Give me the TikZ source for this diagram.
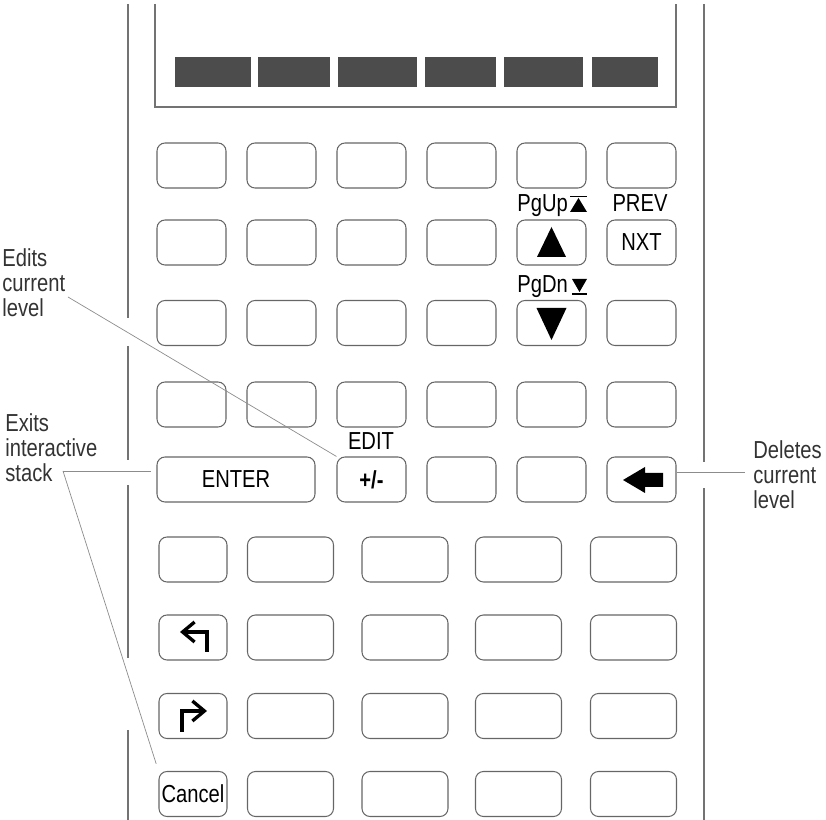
\documentclass[tikz,border=0pt]{standalone}
\usepackage{fontspec}
\setmainfont[FakeStretch=0.82]{Liberation Sans}
\usetikzlibrary{arrows.meta, calc}

\begin{document}
\begin{tikzpicture}[
    x=0.2mm, y=-0.2mm,
    font=\fontsize{14}{14.2}\selectfont,
    tombol/.style={draw=black!60, line width=0.6pt, rounded corners=1.6mm,
                   minimum width=13.8mm, minimum height=9mm, inner sep=0pt},
    lebar/.style={tombol, minimum width=17.2mm},
    ket/.style={anchor=north west, align=left, inner sep=0pt, text=black!80},
    tulisan/.style={inner sep=0pt, anchor=base},
    garis/.style={black!55, line width=0.6pt},
    penunjuk/.style={black!45, line width=0.4pt},
    panah/.style={line width=1.9pt, -{Straight Barb[length=2.4mm, width=4mm]}}
  ]
    \useasboundingbox (0,0) rectangle (826,820);
    \draw[garis] (128,4) -- (128,318) (128,346) -- (128,460) (128,485) -- (128,658) (128,730) -- (128,820);
    \draw[garis] (704,4) -- (704,462) (704,488) -- (704,820);
    \draw[garis] (155,4) -- (155,107) -- (676,107) -- (676,4);
    \foreach \a/\b in {175/251, 258/330, 338/417, 425/496, 504/583, 592/658}
      \fill[black!70] (\a,57) rectangle (\b,87);

    \foreach \y [count=\r] in {165.5, 242.5, 323, 404.5} {
      \foreach \x [count=\c] in {191.5, 281.5, 371.5, 461.5, 551.5, 641.5}
        \node[tombol] (t\r\c) at (\x,\y) {};
    }
    \node[tulisan, anchor=center] (nxt) at (t26) {NXT};
    \node[tombol, minimum width=31.6mm] (enter) at (236,479.5) {ENTER};
    \node[tombol, font=\fontsize{14}{14.2}\selectfont\bfseries] (pm) at (371.5,479.5) {+/-};
    \foreach \x [count=\c from 3] in {461.5, 551.5}
      \node[tombol] (t5\c) at (\x,479.5) {};
    \node[tombol] (hapus) at (641.5,479.5) {};

    \foreach \y [count=\r from 6] in {559.5, 637.5, 716, 794} {
      \foreach \x [count=\c from 2] in {290.5, 405, 518.5, 633.5}
        \node[lebar] (t\r\c) at (\x,\y) {};
    }
    \foreach \y [count=\r from 6] in {559.5, 637.5, 716}
      \node[tombol, minimum width=13.6mm] (t\r1) at (193,\y) {};
    \node[tombol, minimum width=13.6mm] (cancel) at (193,794) {Cancel};

    \fill (t25.center) ++(0,-15.5) -- ++(14.5,30) -- ++(-29,0) -- cycle;
    \fill (t35.center) ++(0,17) -- ++(15,-32) -- ++(-30,0) -- cycle;
    \fill[shift={(hapus.center)}] (-18.5,0.5) -- (3.5,-12.5) -- (3.5,-6.5) -- (21.5,-6.5)
      -- (21.5,7.5) -- (3.5,7.5) -- (3.5,13.5) -- cycle;
    \draw[panah, shift={(t71.center)}] (14,14.5) -- (14,-5.5) -- (-13,-5.5);
    \draw[panah, shift={(t81.center)}] (-11,16) -- (-11,-5) -- (14,-5);

    \node[tulisan, anchor=base west] (pgup) at (517,212) {PgUp};
    \node[tulisan] (prev) at (640,212) {PREV};
    \node[tulisan, anchor=base west] (pgdn) at (517,293) {PgDn};
    \node[tulisan] (edit) at (371,450) {EDIT};
    \fill (570,212) -- (578.5,198) -- (587,212) -- cycle;
    \draw[line width=0.8pt] (570,196.5) -- (587,196.5);
    \fill (572,279) -- (587,279) -- (579.5,292) -- cycle;
    \draw[line width=0.8pt] (572,294) -- (587,294);

    \node[ket] (edits) at (2,248) {Edits\\current\\level};
    \node[ket] (exits) at (5,413) {Exits\\interactive\\stack};
    \node[ket] (deletes) at (753,440) {Deletes\\current\\level};
    \coordinate (ujungEdit) at (68,297);
    \coordinate (ujungExit) at (63,471);
    \coordinate (ujungHapus) at (745,472);
    \draw[penunjuk] (ujungEdit) -- (pm.north west);
    \draw[penunjuk, shorten >=1mm] (ujungExit) -- (ujungExit -| enter.west);
    \draw[penunjuk, shorten >=1.5mm] (ujungExit) -- (cancel.north west);
    \draw[penunjuk] (hapus.east |- ujungHapus) -- (ujungHapus);
  \end{tikzpicture}
\end{document}
